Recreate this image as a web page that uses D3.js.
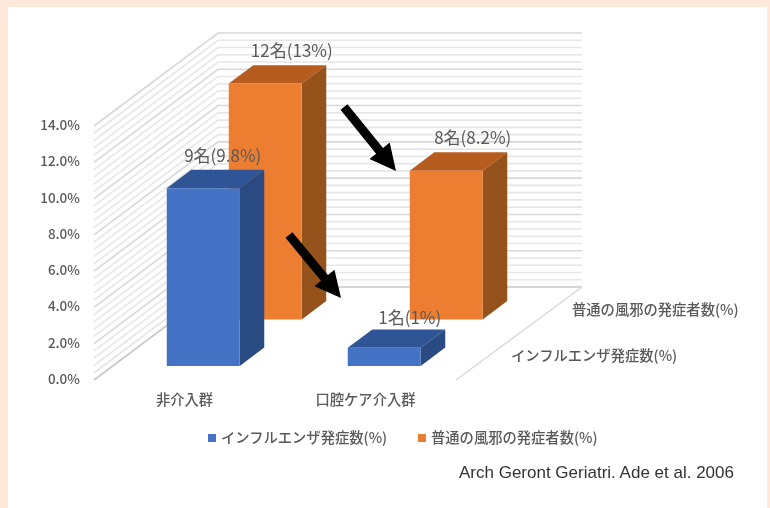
<!DOCTYPE html>
<html>
<head>
<meta charset="utf-8">
<script src="https://cdn.jsdelivr.net/npm/d3@7"></script>
<style>
  html, body { margin: 0; padding: 0; background: #fde8d9; }
  svg { display: block; filter: blur(0.45px); }
</style>
</head>
<body>
<svg width="770" height="508"></svg>
<script>
const categories = ['非介入群', '口腔ケア介入群'];
const seriesNames = ['インフルエンザ発症数(%)', '普通の風邪の発症者数(%)'];
const fluValues = [9.8, 1];
const coldValues = [13, 8.2];
const fluLabels = ['9名(9.8%)', '1名(1%)'];
const coldLabels = ['12名(13%)', '8名(8.2%)'];
const valueTicks = [0, 2, 4, 6, 8, 10, 12, 14];
const citation = 'Arch Geront Geriatri. Ade et al. 2006';

const jpFont = '"Noto Sans CJK JP", sans-serif';
const latinFont = '"Liberation Sans", sans-serif';
const faces = [
	{ front: '#4472c4', top: '#2f5597', side: '#2a4a82' },
	{ front: '#ed7d31', top: '#b65c1e', side: '#96521b' }
];

const svg = d3.select('svg');

svg.append('rect')
	.attr('x', 8).attr('y', 7)
	.attr('width', 759).attr('height', 501)
	.attr('fill', '#fff');

// oblique projection: category along the front, series going back into the chart
const depthX = 124;
const depthY = 93;

const xScale = d3.scaleBand()
	.domain(categories)
	.range([94, 456])
	.paddingInner(.597)
	.paddingOuter(.2985);

const zScale = d3.scaleBand()
	.domain(seriesNames)
	.range([0, 1])
	.paddingInner(.604)
	.paddingOuter(.302);

const yScale = d3.scaleLinear()
	.domain([0, 14])
	.range([380, 126]);

const project = (x, z, v) => [x + z * depthX, yScale(v) - z * depthY];
const poly = pts => pts.map(p => p.join(',')).join(' ');

// walls
const left = 94;
const right = 458;
const minorTicks = d3.range(0, 14.01, 0.4);
const gridG = svg.append('g');

minorTicks.forEach(v => {
	const major = valueTicks.includes(Math.round(v * 10) / 10);
	const a = project(left, 0, v);
	const b = project(left, 1, v);
	const c = project(right, 1, v);
	gridG.append('polyline')
		.attr('points', poly([a, b, c]))
		.attr('fill', 'none')
		.attr('stroke', v === 0 ? '#c8c8c8' : major ? '#d8d8d8' : '#e6e6e6')
		.attr('stroke-width', 1.6);
});

// floor right edge
gridG.append('line')
	.attr('x1', project(right - 2, 0, 0)[0]).attr('y1', project(right - 2, 0, 0)[1])
	.attr('x2', project(right, 1, 0)[0]).attr('y2', project(right, 1, 0)[1])
	.attr('stroke', '#d8d8d8').attr('stroke-width', 1.4);

const drawSeries = (values, s, face) => {
	const z0 = zScale(seriesNames[s]);
	const z1 = z0 + zScale.bandwidth();
	categories.forEach((cat, i) => {
		const x0 = xScale(cat);
		const x1 = x0 + xScale.bandwidth();
		const v = values[i];
		const g = svg.append('g');
		g.append('polygon')
			.attr('points', poly([project(x0, z0, v), project(x1, z0, v), project(x1, z1, v), project(x0, z1, v)]))
			.attr('fill', face.top);
		g.append('polygon')
			.attr('points', poly([project(x1, z0, 0), project(x1, z0, v), project(x1, z1, v), project(x1, z1, 0)]))
			.attr('fill', face.side);
		g.append('polygon')
			.attr('points', poly([project(x0, z0, 0), project(x1, z0, 0), project(x1, z0, v), project(x0, z0, v)]))
			.attr('fill', face.front);
	});
};

// nudges so the labels sit where the original has them
const labelNudge = [[[-5, -8], [1, -5]], [[2, -8], [2, -8]]];

const drawLabels = (values, labels, s) => {
	const z1 = zScale(seriesNames[s]) + zScale.bandwidth();
	categories.forEach((cat, i) => {
		const p = project(xScale(cat) + xScale.bandwidth() / 2, z1, values[i]);
		svg.append('text')
			.attr('x', p[0] + labelNudge[s][i][0])
			.attr('y', p[1] + labelNudge[s][i][1])
			.attr('text-anchor', 'middle')
			.attr('font-family', jpFont)
			.attr('font-size', 17)
			.attr('fill', '#595959')
			.text(labels[i]);
	});
};

// back series first so the front bars cover it
drawSeries(coldValues, 1, faces[1]);
drawSeries(fluValues, 0, faces[0]);
drawLabels(coldValues, coldLabels, 1);
drawLabels(fluValues, fluLabels, 0);

// value axis labels
valueTicks.forEach(v => {
	svg.append('text')
		.attr('x', 80)
		.attr('y', yScale(v) + 4)
		.attr('text-anchor', 'end')
		.attr('font-family', jpFont)
		.attr('font-weight', 500)
		.attr('font-size', 13.5)
		.attr('fill', '#595959')
		.text(v.toFixed(1) + '%');
});

// category labels
categories.forEach(cat => {
	svg.append('text')
		.attr('x', xScale(cat) + xScale.bandwidth() / 2)
		.attr('y', 405)
		.attr('text-anchor', 'middle')
		.attr('font-family', jpFont)
		.attr('font-weight', 500)
		.attr('font-size', 14.3)
		.attr('fill', '#595959')
		.text(cat);
});

// series labels on the depth axis
const seriesLabelPos = [[511, 361], [572, 315]];
seriesNames.forEach((name, i) => {
	svg.append('text')
		.attr('x', seriesLabelPos[i][0])
		.attr('y', seriesLabelPos[i][1])
		.attr('font-family', jpFont)
		.attr('font-weight', 500)
		.attr('font-size', 14.3)
		.attr('fill', '#595959')
		.text(name);
});

// legend
const legendX = [208, 418];
seriesNames.forEach((name, i) => {
	svg.append('rect')
		.attr('x', legendX[i]).attr('y', 434)
		.attr('width', 8).attr('height', 8)
		.attr('fill', faces[i].front);
	svg.append('text')
		.attr('x', legendX[i] + 13)
		.attr('y', 443)
		.attr('font-family', jpFont)
		.attr('font-weight', 500)
		.attr('font-size', 14.3)
		.attr('fill', '#595959')
		.text(name);
});

// annotation arrows
const arrows = [
	{ from: [344, 107], to: [396, 171] },
	{ from: [289, 235], to: [341, 298] }
];
arrows.forEach(a => {
	const ang = Math.atan2(a.to[1] - a.from[1], a.to[0] - a.from[0]);
	const len = Math.hypot(a.to[0] - a.from[0], a.to[1] - a.from[1]);
	const hw = 4.5, headW = 13, headL = 26;
	const pts = [[0, -hw], [len - headL, -hw], [len - headL, -headW], [len, 0], [len - headL, headW], [len - headL, hw], [0, hw]];
	svg.append('polygon')
		.attr('transform', `translate(${a.from[0]}, ${a.from[1]}) rotate(${ang * 180 / Math.PI})`)
		.attr('points', poly(pts))
		.attr('fill', '#000');
});

svg.append('text')
	.attr('x', 459)
	.attr('y', 478)
	.attr('font-family', latinFont)
	.attr('font-size', 17)
	.attr('fill', '#333')
	.text(citation);
</script>
</body>
</html>
